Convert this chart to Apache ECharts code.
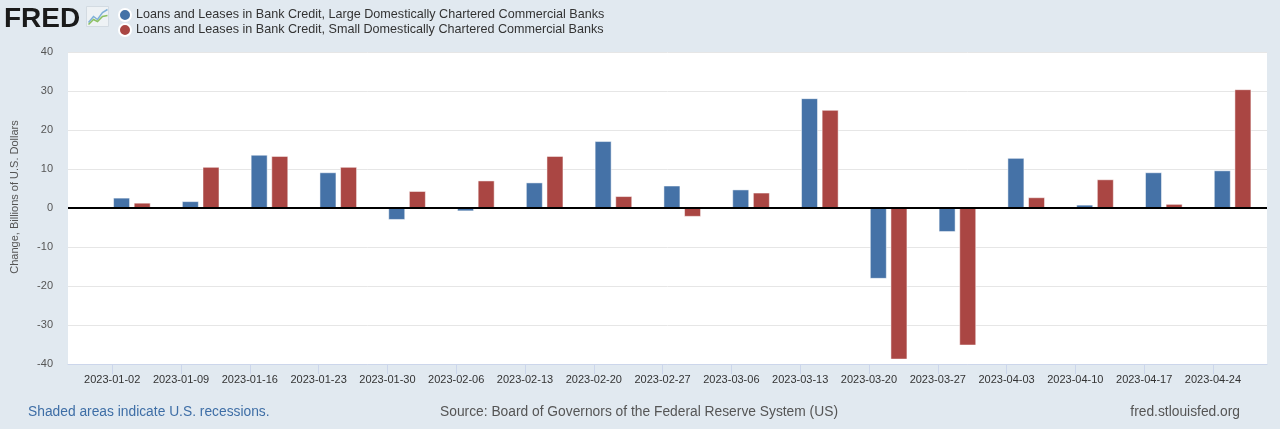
<!DOCTYPE html>
<html>
<head>
<meta charset="utf-8">
<script src="https://cdn.jsdelivr.net/npm/echarts@6/dist/echarts.min.js"></script>
<style>
html,body{margin:0;padding:0;background:#e1e9f0;}
#c{width:1280px;height:429px;}
</style>
</head>
<body>
<div id="c"></div>
<script>
// Week dates (H.8 weekly, Wednesday)
const weekDates = ['2023-01-04','2023-01-11','2023-01-18','2023-01-25','2023-02-01','2023-02-08','2023-02-15','2023-02-22','2023-03-01','2023-03-08','2023-03-15','2023-03-22','2023-03-29','2023-04-05','2023-04-12','2023-04-19','2023-04-26'];
const largeBanks = [2.6, 1.7, 13.6, 9.1, -3.0, -0.8, 6.5, 17.1, 5.7, 4.7, 28.1, -18.1, -6.1, 12.8, 0.8, 9.1, 9.6];
const smallBanks = [1.3, 10.5, 13.3, 10.5, 4.3, 7.0, 13.3, 3.0, -2.2, 3.9, 25.1, -38.8, -35.2, 2.7, 7.3, 1.0, 30.4];
const tickLabels = ['2023-01-02','2023-01-09','2023-01-16','2023-01-23','2023-01-30','2023-02-06','2023-02-13','2023-02-20','2023-02-27','2023-03-06','2023-03-13','2023-03-20','2023-03-27','2023-04-03','2023-04-10','2023-04-17','2023-04-24'];
const seriesNames = ['Loans and Leases in Bank Credit, Large Domestically Chartered Commercial Banks','Loans and Leases in Bank Credit, Small Domestically Chartered Commercial Banks'];
const yAxisTitle = 'Change, Billions of U.S. Dollars';

const DAY = 86400000;
const origin = Date.parse(tickLabels[0] + 'T00:00:00Z');
const toDay = s => (Date.parse(s + 'T00:00:00Z') - origin) / DAY;
const tickDays = tickLabels.map(toDay);
const labelByDay = {};
tickDays.forEach((d, i) => labelByDay[d] = tickLabels[i]);

const chart = echarts.init(document.getElementById('c'));
const FONT = '"Liberation Sans", Arial, sans-serif';
chart.setOption({
  backgroundColor: '#e1e9f0',
  animation: false,
  textStyle: {fontFamily: FONT},
  legend: {
    orient: 'vertical', left: 113, top: 3, itemGap: 1, padding: 5,
    icon: 'circle', itemWidth: 12, itemHeight: 12,
    textStyle: {fontSize: 12.6, lineHeight: 13, color: '#333', fontFamily: FONT},
    data: seriesNames
  },
  graphic: [
    {type: 'text', left: 4, top: 5, style: {text: 'FRED', font: 'bold 28px "Liberation Sans", Arial', fill: '#1a1a1a'}},
    {type: 'group', left: 86, top: 6, children: [
      {type: 'rect', shape: {x: 0, y: 0, width: 22, height: 20}, style: {fill: '#eef2f5', stroke: '#d3dbe2', lineWidth: 1}},
      {type: 'polyline', shape: {points: [[2,16],[7,10],[11,13],[16,6],[21,3]]}, style: {stroke: '#7fb0d8', lineWidth: 1.5, fill: null}},
      {type: 'polyline', shape: {points: [[2,18],[7,13],[11,15],[16,10],[21,9]]}, style: {stroke: '#8cc063', lineWidth: 1.5, fill: null}}
    ]},
    {type: 'text', x: 15, y: 197, rotation: Math.PI / 2, style: {text: yAxisTitle, font: '11px "Liberation Sans", Arial', fill: '#555', align: 'center', verticalAlign: 'middle'}},
    {type: 'text', left: 28, top: 405, style: {text: 'Shaded areas indicate U.S. recessions.', font: '13.8px "Liberation Sans", Arial', fill: '#3e6ea6'}},
    {type: 'text', left: 440, top: 405, style: {text: 'Source: Board of Governors of the Federal Reserve System (US)', font: '13.8px "Liberation Sans", Arial', fill: '#555'}},
    {type: 'text', right: 40, top: 405, style: {text: 'fred.stlouisfed.org', font: '13.8px "Liberation Sans", Arial', fill: '#555'}}
  ],
  grid: {left: 68, right: 13, top: 52, bottom: 65, show: true, backgroundColor: '#fff', borderWidth: 0},
  xAxis: {
    type: 'value',
    min: -4.5, max: 117.5,
    axisLine: {show: true, onZero: false, lineStyle: {color: '#ccd6eb'}},
    axisTick: {show: true, customValues: tickDays, length: 10, lineStyle: {color: '#ccd6eb'}},
    axisLabel: {customValues: tickDays, formatter: v => labelByDay[v] || '', fontSize: 11, color: '#333', margin: 10},
    splitLine: {show: false}
  },
  yAxis: {
    type: 'value', min: -40, max: 40, interval: 10,
    axisLine: {show: false}, axisTick: {show: false},
    axisLabel: {fontSize: 11, color: '#555', margin: 15},
    splitLine: {lineStyle: {color: '#e6e6e6', width: 1}}
  },
  series: [
    {name: seriesNames[0], type: 'bar', barWidth: 16.5, barGap: '25%',
     itemStyle: {color: '#4572a7', borderColor: '#ffffff', borderWidth: 0.5},
     data: weekDates.map((d, i) => [toDay(d), largeBanks[i]]),
     markLine: {silent: true, symbol: 'none', label: {show: false}, lineStyle: {color: '#000', width: 2, type: 'solid'}, data: [{yAxis: 0}]}
    },
    {name: seriesNames[1], type: 'bar', barWidth: 16.5, barGap: '25%',
     itemStyle: {color: '#aa4643', borderColor: '#ffffff', borderWidth: 0.5},
     data: weekDates.map((d, i) => [toDay(d), smallBanks[i]])
    }
  ]
});
</script>
</body>
</html>
